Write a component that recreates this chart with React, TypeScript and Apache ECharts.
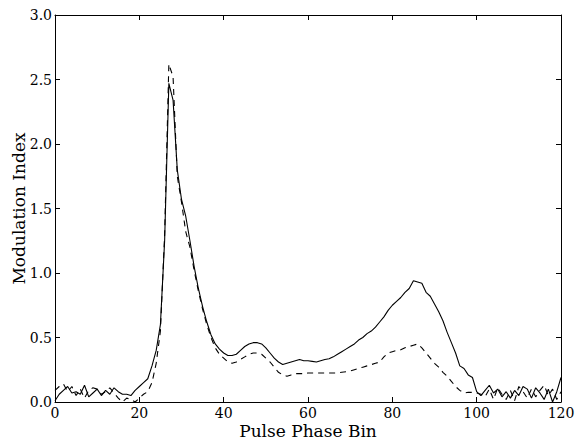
import React, { useEffect, useRef } from "react";
import * as echarts from "echarts";

const xTicks = [0, 20, 40, 60, 80, 100, 120];
const yTicks = [0.0, 0.5, 1.0, 1.5, 2.0, 2.5, 3.0];

// Modulation index per pulse phase bin (0..120), solid line
const solidIndex = [
  0.01, 0.06, 0.09, 0.12, 0.07, 0.08, 0.06, 0.13, 0.04, 0.07,
  0.10, 0.05, 0.09, 0.06, 0.11, 0.08, 0.06, 0.06, 0.05, 0.09,
  0.12, 0.15, 0.18, 0.28, 0.40, 0.60, 1.25, 2.47, 2.34, 1.80,
  1.57, 1.44, 1.25, 1.05, 0.88, 0.74, 0.62, 0.52, 0.45, 0.41,
  0.38, 0.36, 0.36, 0.37, 0.40, 0.43, 0.45, 0.46, 0.46, 0.45,
  0.42, 0.38, 0.34, 0.31, 0.29, 0.30, 0.31, 0.32, 0.33, 0.32,
  0.32, 0.315, 0.31, 0.32, 0.33, 0.335, 0.35, 0.37, 0.39, 0.41,
  0.43, 0.45, 0.48, 0.50, 0.53, 0.55, 0.58, 0.62, 0.66, 0.71,
  0.75, 0.78, 0.81, 0.85, 0.88, 0.94, 0.93, 0.92, 0.85, 0.82,
  0.76, 0.70, 0.63, 0.54, 0.46, 0.38, 0.28, 0.26, 0.21, 0.19,
  0.08, 0.05, 0.09, 0.13, 0.07, 0.10, 0.04, 0.08, 0.03, 0.09,
  0.05, 0.12, 0.10, 0.03, 0.11, 0.07, 0.02, 0.10, 0.00, 0.08,
  0.19,
];

// Modulation index per pulse phase bin (0..120), dashed line
const dashedIndex = [
  0.09, 0.12, 0.14, 0.08, 0.12, 0.05, 0.10, 0.03, 0.09, 0.11,
  0.10, 0.06, 0.08, 0.11, 0.07, 0.03, 0.00, 0.03, 0.02, 0.00,
  0.03, 0.06, 0.08, 0.15, 0.30, 0.55, 1.30, 2.62, 2.52, 1.75,
  1.55, 1.32, 1.20, 1.02, 0.86, 0.72, 0.60, 0.50, 0.42, 0.37,
  0.34, 0.31, 0.30, 0.31, 0.33, 0.35, 0.37, 0.38, 0.38, 0.37,
  0.34, 0.31, 0.27, 0.23, 0.21, 0.20, 0.21, 0.22, 0.22, 0.22,
  0.225, 0.225, 0.225, 0.225, 0.225, 0.225, 0.225, 0.225, 0.23, 0.235,
  0.24, 0.25, 0.26, 0.27, 0.28, 0.29, 0.30, 0.31, 0.35, 0.38,
  0.39, 0.40, 0.405, 0.42, 0.43, 0.44, 0.45, 0.42, 0.38, 0.34,
  0.30, 0.27, 0.23, 0.20, 0.16, 0.12, 0.09, 0.07, 0.075, 0.075,
  0.07, 0.06, 0.04, 0.10, 0.02, 0.11, 0.06, 0.02, 0.09, 0.01,
  0.12, 0.08, 0.03, 0.10, 0.04, 0.09, 0.13, 0.05, 0.10, 0.02,
  0.08,
];

const FONT = "DejaVu Serif";

export default function App() {
  const ref = useRef<HTMLDivElement>(null);

  useEffect(() => {
    if (!ref.current) return;
    const chart = echarts.init(ref.current, undefined, { renderer: "svg" });
    const solidData = solidIndex.map((v, i) => [i, v]);
    const dashedData = dashedIndex.map((v, i) => [i, v]);
    const axisLine = { show: true, onZero: false, lineStyle: { color: "#000", width: 1 } };
    const tick = { show: true, inside: true, length: 5, lineStyle: { color: "#000", width: 1 } };
    const xMin = xTicks[0];
    const xMax = xTicks[xTicks.length - 1];
    const xInt = xTicks[1] - xTicks[0];
    const yMin = yTicks[0];
    const yMax = yTicks[yTicks.length - 1];
    const yInt = yTicks[1] - yTicks[0];
    chart.setOption({
      animation: false,
      backgroundColor: "#fff",
      grid: {
        left: 55,
        right: 21,
        top: 15,
        bottom: 39,
        containLabel: false,
        outerBoundsMode: "none",
      },
      xAxis: [
        {
          type: "value",
          min: xMin,
          max: xMax,
          interval: xInt,
          position: "bottom",
          name: "Pulse Phase Bin",
          nameLocation: "middle",
          nameGap: 20,
          nameMoveOverlap: false,
          nameTextStyle: { fontFamily: FONT, fontSize: 17, color: "#000", lineHeight: 18 },
          axisLine,
          axisTick: tick,
          splitLine: { show: false },
          axisLabel: { fontFamily: FONT, fontSize: 14, color: "#000", margin: 4 },
        },
        {
          type: "value",
          min: xMin,
          max: xMax,
          interval: xInt,
          position: "top",
          axisLine,
          axisTick: tick,
          splitLine: { show: false },
          axisLabel: { show: false },
        },
      ],
      yAxis: [
        {
          type: "value",
          min: yMin,
          max: yMax,
          interval: yInt,
          position: "left",
          name: "Modulation Index",
          nameLocation: "middle",
          nameGap: 28,
          nameMoveOverlap: false,
          nameTextStyle: { fontFamily: FONT, fontSize: 17, color: "#000" },
          axisLine,
          axisTick: tick,
          splitLine: { show: false },
          axisLabel: {
            fontFamily: FONT,
            fontSize: 14,
            color: "#000",
            margin: 3,
            formatter: (v: number) => v.toFixed(1),
          },
        },
        {
          type: "value",
          min: yMin,
          max: yMax,
          interval: yInt,
          position: "right",
          axisLine,
          axisTick: tick,
          splitLine: { show: false },
          axisLabel: { show: false },
        },
      ],
      series: [
        {
          type: "line",
          data: solidData,
          showSymbol: false,
          symbol: "none",
          lineStyle: { color: "#000", width: 1.1, type: "solid" },
          z: 3,
        },
        {
          type: "line",
          data: dashedData,
          showSymbol: false,
          symbol: "none",
          lineStyle: { color: "#000", width: 1.1, type: [6, 5] },
          z: 3,
        },
      ],
    });
    return () => chart.dispose();
  }, []);

  return <div ref={ref} style={{ width: 582, height: 441, position: "absolute", left: 0, top: 0 }} />;
}
